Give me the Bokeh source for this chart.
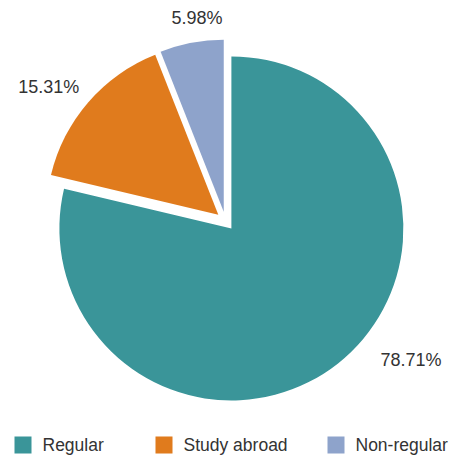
import math
from bokeh.plotting import figure
from bokeh.models import Range1d, ColumnDataSource
from bokeh.core.properties import value
from bokeh.embed import file_html
from bokeh.resources import INLINE

# ---- data ----
categories = ["Regular", "Study abroad", "Non-regular"]
shares = [78.71, 15.31, 5.98]
colors = ["#3a9599", "#e07b1d", "#8ea3cb"]

# ---- layout / style (page pixel space; y converted) ----
W, H = 460, 457
PAGE_H = 457
def Y(py):
    return PAGE_H - py

cx, cy = 225.0, Y(220.5)
radius = 172.0
explode = 9.5
label_angles_deg = [-36.9, 142.8, 98.0]
label_dists = [232.0, 222.0, 205.0]
legend_x = [14, 155, 327]
legend_y = 444.5
sq = 17
text_gap = 11

p = figure(width=W, height=H, output_backend="svg", toolbar_location=None,
           x_range=Range1d(0, W), y_range=Range1d(0, H),
           min_border=0)
p.axis.visible = False
p.grid.visible = False
p.outline_line_color = None
p.background_fill_color = "white"
p.border_fill_color = "white"

total = sum(shares)
xs, ys, starts, ends = [], [], [], []
cum = 0.0
for s in shares:
    a0 = math.pi / 2 - 2 * math.pi * (cum + s) / total
    a1 = math.pi / 2 - 2 * math.pi * cum / total
    mid = (a0 + a1) / 2
    xs.append(cx + explode * math.cos(mid))
    ys.append(cy + explode * math.sin(mid))
    starts.append(a0)
    ends.append(a1)
    cum += s

src = ColumnDataSource(dict(x=xs, y=ys, start=starts, end=ends, color=colors))
p.wedge(x="x", y="y", radius=radius, start_angle="start", end_angle="end",
        fill_color="color", line_color=None, source=src)

lx = [cx + d * math.cos(math.radians(a)) for a, d in zip(label_angles_deg, label_dists)]
ly = [cy + d * math.sin(math.radians(a)) for a, d in zip(label_angles_deg, label_dists)]
labels = ["%.2f%%" % s for s in shares]
p.text(x=lx, y=ly, text=labels, text_align="center", text_baseline="middle",
       text_font=value("Liberation Sans"), text_font_size="18px", text_color="#333333")

# legend
p.rect(x=[x + sq / 2 for x in legend_x], y=[Y(legend_y)] * 3, width=sq, height=sq,
       fill_color=colors, line_color=None)
p.text(x=[x + sq + text_gap for x in legend_x], y=[Y(legend_y)] * 3, text=categories,
       text_align="left", text_baseline="middle",
       text_font=value("Liberation Sans"), text_font_size="17.5px", text_color="#333333")

open("out.html", "w").write(file_html(p, INLINE))
